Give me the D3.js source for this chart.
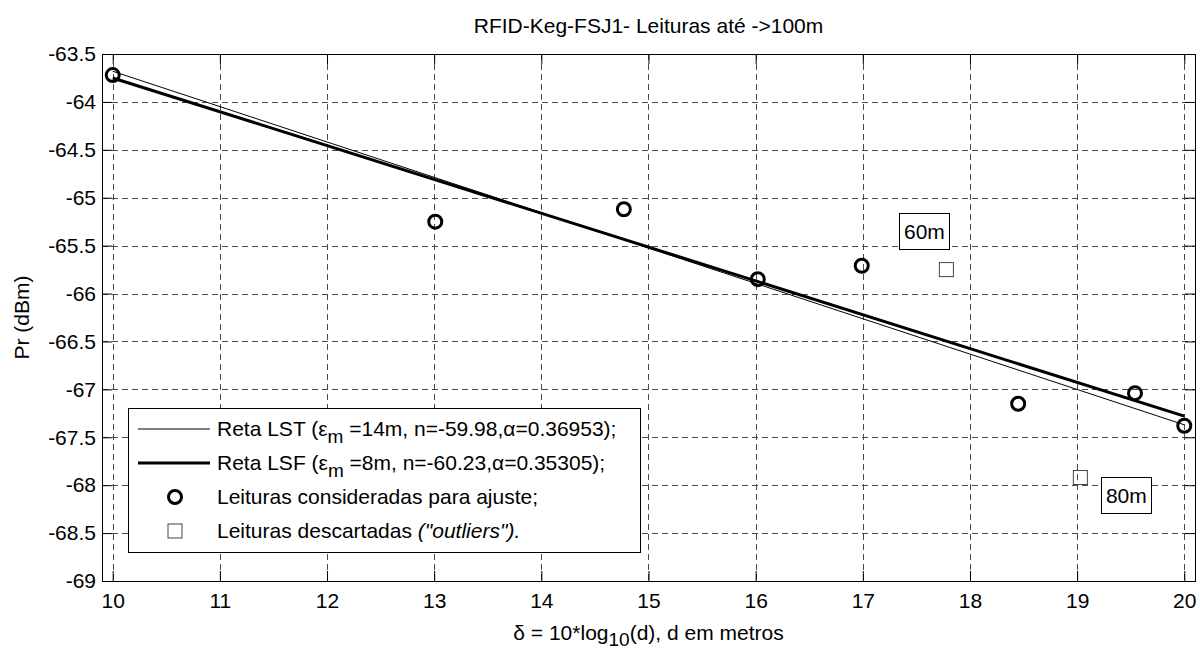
<!DOCTYPE html>
<html>
<head>
<meta charset="utf-8">
<script src="https://cdn.jsdelivr.net/npm/d3@7"></script>
<style>
  html, body { margin: 0; padding: 0; background: #fff; }
  svg { display: block; font-family: "Liberation Sans", Arial, sans-serif; }
</style>
</head>
<body>
<svg id="chart" width="1200" height="650"></svg>
<script>
// ---- data ----
const chartTitle = "RFID-Keg-FSJ1- Leituras até ->100m";
const xTicks = [10, 11, 12, 13, 14, 15, 16, 17, 18, 19, 20];
const yTicks = [-63.5, -64, -64.5, -65, -65.5, -66, -66.5, -67, -67.5, -68, -68.5, -69];
const yTickLabels = ["-63.5", "-64", "-64.5", "-65", "-65.5", "-66", "-66.5", "-67", "-67.5", "-68", "-68.5", "-69"];

// readings used for fit (delta = 10*log10(d))
const fitDelta = [10, 13.01, 14.77, 16.02, 16.99, 18.45, 19.54, 20];
const fitPr    = [-63.72, -65.25, -65.12, -65.85, -65.71, -67.15, -67.04, -67.38];

// discarded readings (outliers)
const outDelta = [17.78, 19.03];
const outPr    = [-65.75, -67.92];
const outLabels = ["60m", "80m"];

// fitted lines (endpoints)
const lstDelta = [10, 20];
const lstPr    = [-63.68, -67.37];
const lsfDelta = [10, 20];
const lsfPr    = [-63.75, -67.28];

// ---- layout ----
const svg = d3.select("#chart");
const L = 102, R = 1195, T = 54, B = 581;
const x = d3.scaleLinear().domain([9.9, 20.1]).range([L, R]);
const y = d3.scaleLinear().domain([-69, -63.5]).range([B, T]);
const FS = 21;

// grid
const grid = svg.append("g").attr("stroke", "#4a4a4a").attr("stroke-width", 1).attr("stroke-dasharray", "6,4");
grid.selectAll("line.v").data(xTicks).join("line")
  .attr("x1", d => Math.round(x(d)) + 0.5).attr("x2", d => Math.round(x(d)) + 0.5)
  .attr("y1", T).attr("y2", B);
grid.selectAll("line.h").data(yTicks).join("line")
  .attr("y1", d => Math.round(y(d)) + 0.5).attr("y2", d => Math.round(y(d)) + 0.5)
  .attr("x1", L).attr("x2", R);

// axes (d3 axes with inward ticks)
const tl = 10;
const xAxisB = d3.axisBottom(x).tickValues(xTicks).tickSize(-tl).tickFormat(d3.format("d"));
const xAxisT = d3.axisTop(x).tickValues(xTicks).tickSize(-tl).tickFormat("");
const yAxisL = d3.axisLeft(y).tickValues(yTicks).tickSize(-tl).tickFormat((d, i) => yTickLabels[i]);
const yAxisR = d3.axisRight(y).tickValues(yTicks).tickSize(-tl).tickFormat("");

function styleAxis(g) {
  g.select(".domain").remove();
  g.selectAll("line").attr("stroke", "#000");
  g.selectAll("text").attr("fill", "#000").style("font-size", FS + "px").style("font-family", "Liberation Sans, Arial, sans-serif");
}
svg.append("g").attr("transform", `translate(0,${B})`).call(xAxisB).call(styleAxis)
  .selectAll("text").attr("dy", null).attr("y", 27);
svg.append("g").attr("transform", `translate(0,${T})`).call(xAxisT).call(styleAxis);
svg.append("g").attr("transform", `translate(${L},0)`).call(yAxisL).call(styleAxis)
  .selectAll("text").attr("x", -6);
svg.append("g").attr("transform", `translate(${R},0)`).call(yAxisR).call(styleAxis);

// box
svg.append("rect").attr("x", L + 0.5).attr("y", T + 0.5).attr("width", R - L).attr("height", B - T)
  .attr("fill", "none").attr("stroke", "#000").attr("stroke-width", 1);

// lines
const line = d3.line().x(d => x(d[0])).y(d => y(d[1]));
svg.append("path").datum(lstDelta.map((d, i) => [d, lstPr[i]]))
  .attr("d", line).attr("fill", "none").attr("stroke", "#000").attr("stroke-width", 1);
svg.append("path").datum(lsfDelta.map((d, i) => [d, lsfPr[i]]))
  .attr("d", line).attr("fill", "none").attr("stroke", "#000").attr("stroke-width", 3);

// fit points
svg.append("g").selectAll("circle").data(fitDelta.map((d, i) => [d, fitPr[i]])).join("circle")
  .attr("cx", d => x(d[0])).attr("cy", d => y(d[1])).attr("r", 6.5)
  .attr("fill", "none").attr("stroke", "#000").attr("stroke-width", 3);

// outliers
const sq = 14;
svg.append("g").selectAll("rect").data(outDelta.map((d, i) => [d, outPr[i]])).join("rect")
  .attr("x", d => x(d[0]) - sq / 2).attr("y", d => y(d[1]) - sq / 2)
  .attr("width", sq).attr("height", sq)
  .attr("fill", "none").attr("stroke", "#444").attr("stroke-width", 1);

// annotation boxes for outliers
const annOffsets = [[-22, -39], [46, 17]];
outLabels.forEach((lab, i) => {
  const cx = x(outDelta[i]) + annOffsets[i][0];
  const cy = y(outPr[i]) + annOffsets[i][1];
  const g = svg.append("g");
  g.append("rect").attr("x", Math.round(cx - 25) + 0.5).attr("y", Math.round(cy - 18) + 0.5)
    .attr("width", 50).attr("height", 36).attr("fill", "#fff").attr("stroke", "#000").attr("stroke-width", 1);
  g.append("text").attr("x", cx).attr("y", cy + 8).attr("text-anchor", "middle")
    .style("font-size", FS + "px").text(lab);
});

// legend
const lg = svg.append("g");
const lgX = 128, lgY = 408, lgW = 512, lgH = 144;
lg.append("rect").attr("x", lgX + 0.5).attr("y", lgY + 0.5).attr("width", lgW).attr("height", lgH)
  .attr("fill", "#fff").attr("stroke", "#000").attr("stroke-width", 1);
const rowY = [429, 463, 497, 531];
lg.append("line").attr("x1", 138).attr("x2", 210).attr("y1", rowY[0]).attr("y2", rowY[0]).attr("stroke", "#000").attr("stroke-width", 1);
lg.append("line").attr("x1", 138).attr("x2", 210).attr("y1", rowY[1]).attr("y2", rowY[1]).attr("stroke", "#000").attr("stroke-width", 3);
lg.append("circle").attr("cx", 175).attr("cy", rowY[2]).attr("r", 6.5).attr("fill", "none").attr("stroke", "#000").attr("stroke-width", 3);
lg.append("rect").attr("x", 175 - sq / 2).attr("y", rowY[3] - sq / 2).attr("width", sq).attr("height", sq)
  .attr("fill", "none").attr("stroke", "#444").attr("stroke-width", 1);

function fitLabel(yy, eps, n, alpha) {
  const t = lg.append("text").attr("x", 217).attr("y", yy + 7).style("font-size", FS + "px");
  t.append("tspan").text("Reta " + eps[0] + " (ε");
  t.append("tspan").attr("dy", 7).style("font-size", (FS - 2) + "px").text("m");
  t.append("tspan").attr("dy", -7).text(" =" + eps[1] + ", n=" + n + ",α=" + alpha + ");");
}
fitLabel(rowY[0], ["LST", "14m"], "-59.98", "0.36953");
fitLabel(rowY[1], ["LSF", "8m"], "-60.23", "0.35305");
lg.append("text").attr("x", 217).attr("y", rowY[2] + 7).style("font-size", FS + "px").text("Leituras consideradas para ajuste;");
const t4 = lg.append("text").attr("x", 217).attr("y", rowY[3] + 7).style("font-size", FS + "px");
t4.append("tspan").text("Leituras descartadas ");
t4.append("tspan").style("font-style", "italic").text("(\"outliers\").");

// title
svg.append("text").attr("x", (L + R) / 2).attr("y", 33).attr("text-anchor", "middle")
  .style("font-size", FS + "px").text(chartTitle);

// x label
const xl = svg.append("text").attr("x", (L + R) / 2).attr("y", 640).attr("text-anchor", "middle").style("font-size", FS + "px");
xl.append("tspan").text("δ = 10*log");
xl.append("tspan").attr("dy", 6).style("font-size", (FS - 2) + "px").text("10");
xl.append("tspan").attr("dy", -6).text("(d), d em metros");

// y label
svg.append("text").attr("transform", `translate(29,${(T + B) / 2}) rotate(-90)`).attr("text-anchor", "middle")
  .style("font-size", FS + "px").text("Pr (dBm)");
</script>
</body>
</html>
